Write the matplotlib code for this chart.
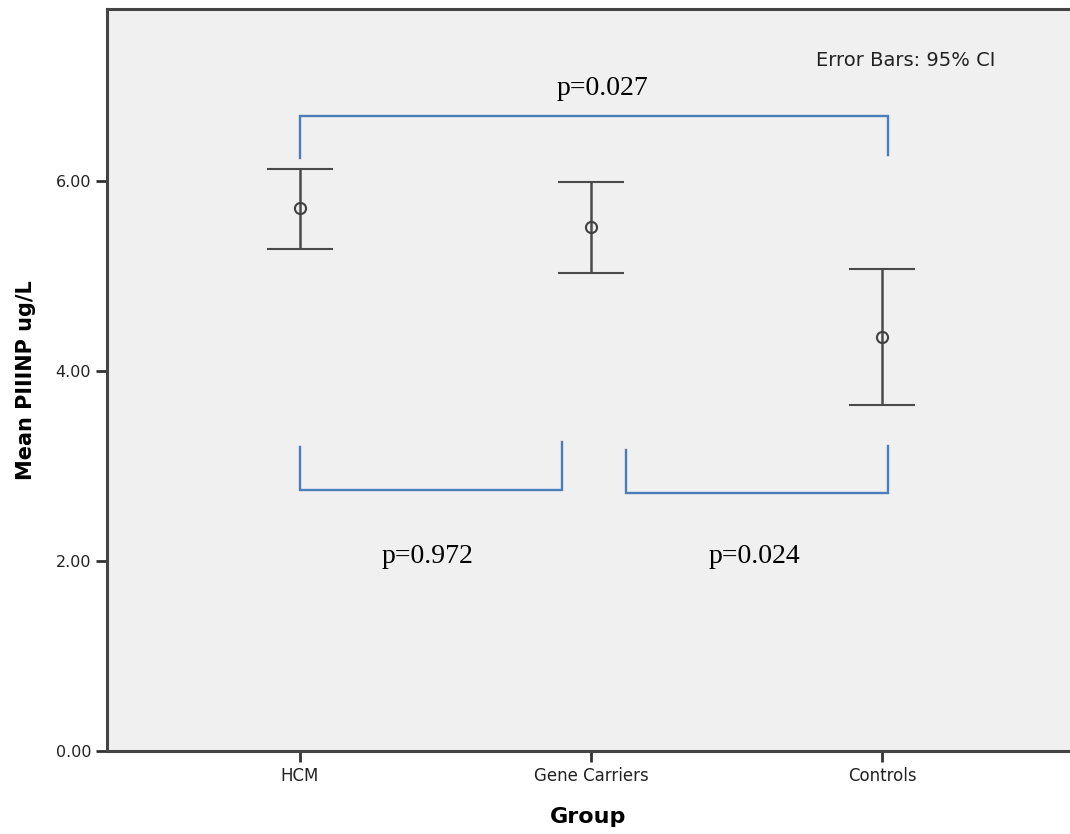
import matplotlib.pyplot as plt

# --- data ---
groups = ["HCM", "Gene Carriers", "Controls"]
means = [5.72, 5.52, 4.36]
ci_low = [5.28, 5.03, 3.64]
ci_high = [6.13, 5.99, 5.07]

# significance brackets: (x_left, x_right, y_line, y_left_end, y_right_end, label, label_x, label_y)
brackets = [
    (0.0, 2.02, 6.68, 6.24, 6.27, "p=0.027", 1.04, 6.97),
    (0.0, 0.90, 2.75, 3.20, 3.25, "p=0.972", 0.44, 2.05),
    (1.12, 2.02, 2.72, 3.17, 3.21, "p=0.024", 1.56, 2.05),
]

fig = plt.figure(figsize=(10.7, 8.34), dpi=100)
ax = fig.add_axes([0.1, 0.0995, 0.9, 0.8897])
ax.set_facecolor("#f0f0f0")

x = list(range(len(groups)))
yerr = [[m - lo for m, lo in zip(means, ci_low)],
        [hi - m for m, hi in zip(means, ci_high)]]
ax.errorbar(x, means, yerr=yerr, fmt="o", color="#404040", ecolor="#4a4a4a",
            elinewidth=1.8, capsize=24, capthick=2.0, markersize=8,
            markerfacecolor="none", markeredgewidth=1.5, zorder=3)

blue = "#4a7ebb"
for xl, xr, yl, yle, yre, lab, lx, ly in brackets:
    ax.plot([xl, xl, xr, xr], [yle, yl, yl, yre], color=blue, lw=1.7,
            solid_joinstyle="miter")
    ax.text(lx, ly, lab, ha="center", va="center", fontsize=20,
            family="Liberation Serif", color="black")

ax.text(2.083, 7.27, "Error Bars: 95% CI", ha="center", va="center",
        fontsize=14, color="#222222")

ax.set_xlim(-0.663, 2.646)
ax.set_ylim(0, 7.81)
ax.set_xticks(x)
ax.set_xticklabels(groups, fontsize=12, color="#222222")
ax.set_yticks([0, 2, 4, 6])
ax.set_yticklabels(["0.00", "2.00", "4.00", "6.00"], fontsize=11.5, color="#222222")
ax.tick_params(axis="both", direction="out", length=8, width=2, color="#333333")

for s in ["left", "bottom", "top"]:
    ax.spines[s].set_linewidth(2.2)
    ax.spines[s].set_color("#444444")
ax.spines["right"].set_visible(False)

ax.set_xlabel("Group", fontsize=16, fontweight="bold", labelpad=16)
ax.set_ylabel("Mean PIIINP ug/L", fontsize=15, fontweight="bold", labelpad=14)

fig.savefig("out.png", dpi=100)
